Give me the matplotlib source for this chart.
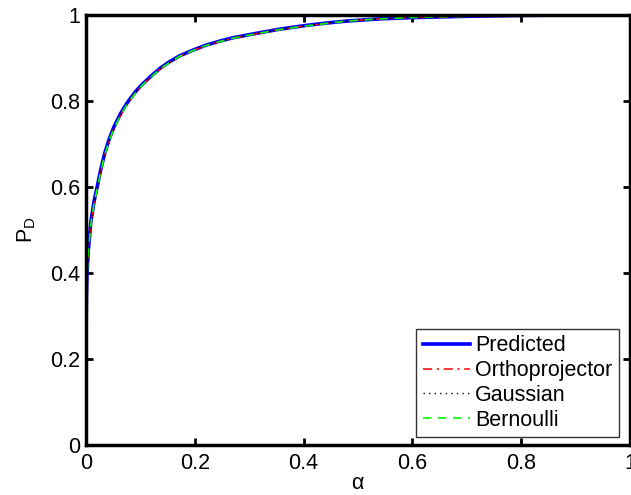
import matplotlib.pyplot as plt

plt.rcParams['font.family'] = ['Liberation Sans', 'DejaVu Sans']
plt.rcParams['mathtext.fontset'] = 'custom'
plt.rcParams['mathtext.rm'] = 'Liberation Sans'

# false-alarm rate and detection probability
alpha = [0.0, 0.0003, 0.0008, 0.0018, 0.0043, 0.0086, 0.0147, 0.0208, 0.027,
         0.0343, 0.042, 0.0514, 0.0636, 0.0758, 0.0911, 0.102, 0.117, 0.136,
         0.152, 0.172, 0.196, 0.221, 0.245, 0.270, 0.316, 0.356, 0.40, 0.44,
         0.48, 0.54, 0.60, 0.70, 0.80, 0.90, 1.0]
pd_predicted = [0.200, 0.280, 0.340, 0.399, 0.453, 0.516, 0.566, 0.602, 0.640,
                0.678, 0.709, 0.740, 0.771, 0.796, 0.822, 0.837, 0.855, 0.876,
                0.890, 0.905, 0.918, 0.930, 0.939, 0.947, 0.958, 0.967, 0.975,
                0.981, 0.986, 0.991, 0.994, 0.997, 0.999, 1.0, 1.0]
pd_ortho = [0.195, 0.272, 0.333, 0.392, 0.446, 0.509, 0.560, 0.596, 0.634,
            0.673, 0.704, 0.736, 0.767, 0.793, 0.819, 0.835, 0.853, 0.874,
            0.888, 0.904, 0.917, 0.929, 0.938, 0.946, 0.957, 0.966, 0.974,
            0.980, 0.986, 0.991, 0.994, 0.997, 0.999, 1.0, 1.0]
pd_gauss = [0.197, 0.275, 0.336, 0.395, 0.449, 0.512, 0.562, 0.598, 0.636,
            0.675, 0.706, 0.737, 0.768, 0.794, 0.820, 0.836, 0.854, 0.875,
            0.889, 0.904, 0.917, 0.929, 0.938, 0.946, 0.957, 0.966, 0.974,
            0.981, 0.986, 0.991, 0.994, 0.997, 0.999, 1.0, 1.0]
pd_bern = [0.194, 0.273, 0.334, 0.393, 0.447, 0.510, 0.561, 0.597, 0.635,
           0.674, 0.705, 0.736, 0.767, 0.793, 0.819, 0.835, 0.853, 0.874,
           0.888, 0.904, 0.917, 0.929, 0.938, 0.946, 0.957, 0.966, 0.974,
           0.980, 0.986, 0.991, 0.994, 0.997, 0.999, 1.0, 1.0]

fig = plt.figure(figsize=(6.31, 4.95), dpi=100)
ax = fig.add_axes([0.1363, 0.101, 0.862, 0.8687])

ax.plot(alpha, pd_predicted, color='#0000ff', lw=2.6, label='Predicted')
ax.plot(alpha, pd_ortho, color='#ff0000', lw=1.1, ls=(0, (6, 3, 1.5, 3)),
        label='Orthoprojector')
ax.plot(alpha, pd_gauss, color='black', lw=1.0, ls=(0, (1, 3)), label='Gaussian')
ax.plot(alpha, pd_bern, color='#00ff00', lw=1.2, ls=(0, (5, 4)), label='Bernoulli')

ticks = [0, 0.2, 0.4, 0.6, 0.8, 1]
labels = ['0', '0.2', '0.4', '0.6', '0.8', '1']
ax.set_xlim(0, 1)
ax.set_ylim(0, 1)
ax.set_xticks(ticks)
ax.set_xticklabels(labels)
ax.set_yticks(ticks)
ax.set_yticklabels(labels)
ax.tick_params(direction='in', length=5, width=2, labelsize=15.5,
               top=True, right=True)
ax.tick_params(axis='x', pad=6)
ax.tick_params(axis='y', pad=4)
for sp in ax.spines.values():
    sp.set_linewidth(2.5)

ax.set_xlabel(r'$\mathregular{\alpha}$', fontsize=15.5, labelpad=-1)
ax.set_ylabel(r'$\mathregular{P_D}$', fontsize=15.5, labelpad=9)

leg = ax.legend(loc='lower right', bbox_to_anchor=(0.98, 0.018), fontsize=15.5,
                frameon=True, fancybox=False, edgecolor='black',
                handlelength=2.2, handletextpad=0.25, borderpad=0.3,
                labelspacing=0.18, borderaxespad=0)
leg.get_frame().set_linewidth(1.0)

fig.savefig('out.png', dpi=100)
